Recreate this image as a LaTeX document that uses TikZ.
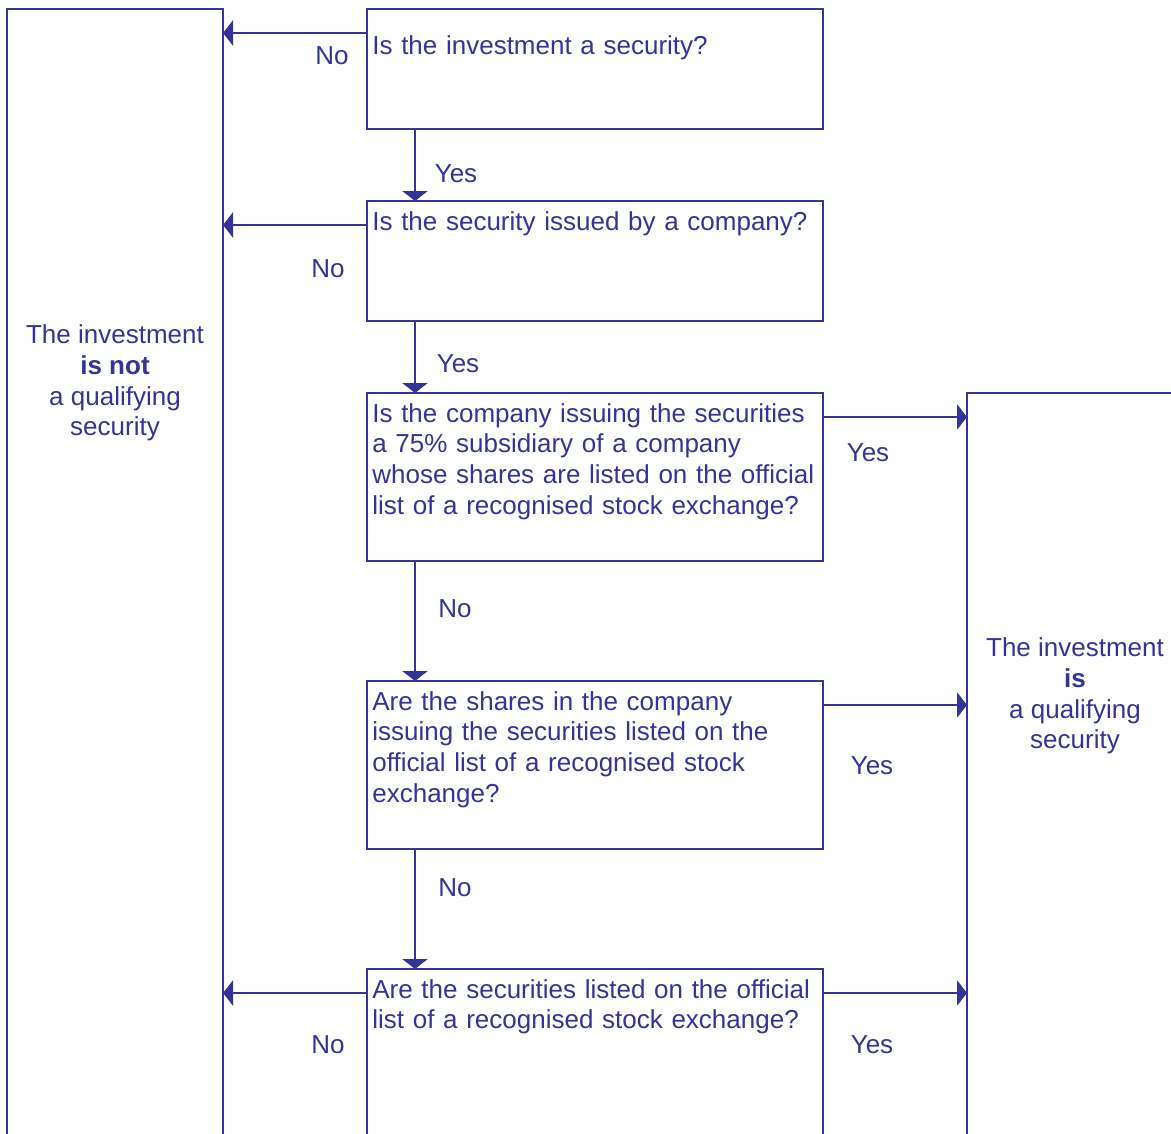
\documentclass[tikz,border=0pt]{standalone}
\usepackage{fontspec}
\setmainfont{Liberation Sans}
\usepackage{xcolor}
\usetikzlibrary{arrows.meta}
\usetikzlibrary{positioning}

\definecolor{qblue}{RGB}{51,51,153}

\tikzset{
  qbox/.style={draw=qblue, line width=1.5pt, minimum width=9.12cm, outer sep=0pt, inner sep=0pt},
  sidebox/.style={draw=qblue, line width=1.5pt, minimum width=4.32cm, outer sep=0pt, inner sep=0pt},
  qtext/.style={anchor=north west, inner sep=0pt, text width=9.1cm, align=left, text=qblue,
    font=\fontsize{14.8}{17.5}\selectfont},
  sidetext/.style={inner sep=0pt, align=center, text=qblue, font=\fontsize{14.8}{17.5}\selectfont},
  answer/.style={inner sep=0pt, text=qblue, font=\fontsize{14.8}{17.5}\selectfont},
  arr/.style={draw=qblue, line width=1.5pt, -{Triangle[length=0.2cm,width=0.5cm]}}
}

\begin{document}
\begin{tikzpicture}
  \clip (0,0) rectangle (23.42,-22.66);

  % outcome boxes
  \node[sidebox, anchor=north west, minimum height=24cm] (notq) at (0.14,-0.18) {};
  \node[sidebox, anchor=north west, minimum height=24cm] (isq) at (19.34,-7.86) {};
  \node[sidetext] (notqtext) at (2.30,-7.66) {The investment\\\textbf{is not}\\a qualifying\\security};
  \node[sidetext] (isqtext) at (21.50,-13.92) {The investment\\\textbf{is}\\a qualifying\\security};

  % question boxes
  \node[qbox, anchor=north west, minimum height=2.4cm] (q1) at (7.34,-0.18) {};
  \node[qbox, minimum height=2.4cm, below=1.44cm of q1] (q2) {};
  \node[qbox, minimum height=3.36cm, below=1.44cm of q2] (q3) {};
  \node[qbox, minimum height=3.36cm, below=2.4cm of q3] (q4) {};
  \node[qbox, minimum height=4cm, below=2.4cm of q4] (q5) {};

  \node[qtext] (t1) at ([xshift=0.1cm,yshift=-0.52cm]q1.north west) {Is the investment a security?};
  \node[qtext] (t2) at ([xshift=0.1cm,yshift=-0.2cm]q2.north west) {Is the security issued by a company?};
  \node[qtext] (t3) at ([xshift=0.1cm,yshift=-0.2cm]q3.north west) {Is the company issuing the securities\\a 75\% subsidiary of a company\\whose shares are listed on the official\\list of a recognised stock exchange?};
  \node[qtext] (t4) at ([xshift=0.1cm,yshift=-0.2cm]q4.north west) {Are the shares in the company\\issuing the securities listed on the\\official list of a recognised stock\\exchange?};
  \node[qtext] (t5) at ([xshift=0.1cm,yshift=-0.2cm]q5.north west) {Are the securities listed on the official\\list of a recognised stock exchange?};

  % yes / no arrows
  \draw[arr] ([yshift=-0.48cm]q1.north west) -- ([yshift=-0.48cm]q1.north west -| notq.east);
  \draw[arr] ([yshift=-0.48cm]q2.north west) -- ([yshift=-0.48cm]q2.north west -| notq.east);
  \draw[arr] ([yshift=-0.48cm]q5.north west) -- ([yshift=-0.48cm]q5.north west -| notq.east);
  \draw[arr] ([yshift=-0.48cm]q3.north east) -- ([yshift=-0.48cm]q3.north east -| isq.west);
  \draw[arr] ([yshift=-0.48cm]q4.north east) -- ([yshift=-0.48cm]q4.north east -| isq.west);
  \draw[arr] ([yshift=-0.48cm]q5.north east) -- ([yshift=-0.48cm]q5.north east -| isq.west);
  \draw[arr] ([xshift=0.96cm]q1.south west) -- ([xshift=0.96cm]q1.south west |- q2.north);
  \draw[arr] ([xshift=0.96cm]q2.south west) -- ([xshift=0.96cm]q2.south west |- q3.north);
  \draw[arr] ([xshift=0.96cm]q3.south west) -- ([xshift=0.96cm]q3.south west |- q4.north);
  \draw[arr] ([xshift=0.96cm]q4.south west) -- ([xshift=0.96cm]q4.south west |- q5.north);

  % labels
  \node[answer] (no1) at (6.64,-1.12) {No};
  \node[answer] (yes1) at (9.12,-3.48) {Yes};
  \node[answer] (no2) at (6.56,-5.38) {No};
  \node[answer] (yes2) at (9.16,-7.28) {Yes};
  \node[answer] (yes3) at (17.36,-9.06) {Yes};
  \node[answer] (no3) at (9.10,-12.18) {No};
  \node[answer] (yes4) at (17.44,-15.32) {Yes};
  \node[answer] (no4) at (9.10,-17.76) {No};
  \node[answer] (no5) at (6.56,-20.90) {No};
  \node[answer] (yes5) at (17.44,-20.90) {Yes};
\end{tikzpicture}
\end{document}
